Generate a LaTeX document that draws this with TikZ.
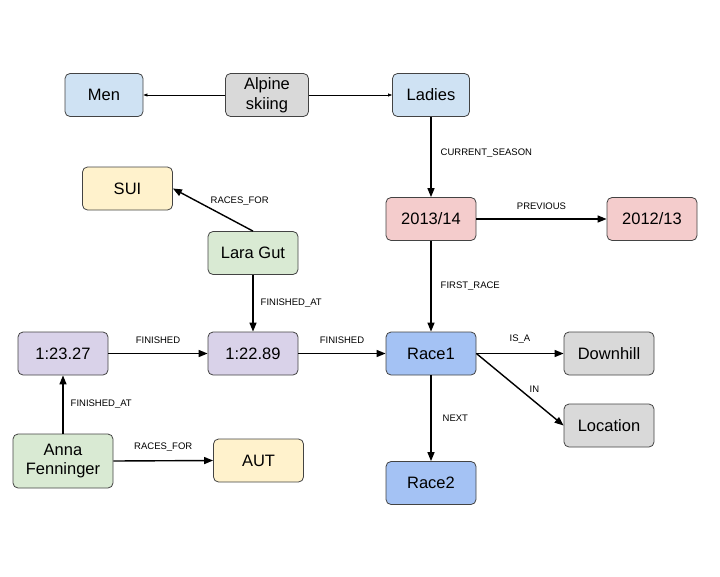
\documentclass[tikz,border=0pt]{standalone}
\usepackage{fontspec}
\setmainfont{Liberation Sans}
\usetikzlibrary{arrows.meta}
\definecolor{boxline}{HTML}{434343}
\definecolor{paleblue}{HTML}{CFE2F3}
\definecolor{palegrey}{HTML}{D9D9D9}
\definecolor{paleyellow}{HTML}{FFF2CC}
\definecolor{palegreen}{HTML}{D9EAD3}
\definecolor{palepink}{HTML}{F4CCCC}
\definecolor{palepurple}{HTML}{D9D2E9}
\definecolor{raceblue}{HTML}{A4C2F4}

\begin{document}
\begin{tikzpicture}[x=1pt,y=-1pt,
  box/.style={draw=boxline,line width=0.8pt,rounded corners=5pt,
    minimum width=90pt,minimum height=43pt,align=center,inner sep=2pt,
    font=\fontsize{16.5}{19.5}\selectfont},
  rel/.style={-{Triangle[length=9pt,width=7pt]},line width=1.4pt},
  thinrel/.style={-{Triangle[length=4pt,width=3pt]},line width=0.7pt},
  lbl/.style={font=\fontsize{9.5}{11}\selectfont,inner sep=1pt}]

\useasboundingbox (0,0) rectangle (720,576);

%top row
\node [box,fill=paleblue,minimum width=78pt] (men) at (104,95) {Men};
\node [box,fill=palegrey,minimum width=83pt] (alpine) at (267,95) {Alpine\\skiing};
\node [box,fill=paleblue,minimum width=77pt] (ladies) at (431,95) {Ladies};

%seasons
\node [box,fill=palepink] (season) at (431,219) {2013/14};
\node [box,fill=palepink] (prevseason) at (652,219) {2012/13};

%lara gut
\node [box,fill=paleyellow] (sui) at (127.5,188.5) {SUI};
\node [box,fill=palegreen] (lara) at (253,253) {Lara Gut};

%times and races
\node [box,fill=palepurple] (annatime) at (63,353.5) {1:23.27};
\node [box,fill=palepurple] (laratime) at (253,353.5) {1:22.89};
\node [box,fill=raceblue] (race1) at (431,353.5) {Race1};
\node [box,fill=palegrey] (downhill) at (609,353.5) {Downhill};
\node [box,fill=palegrey] (location) at (609,425.5) {Location};
\node [box,fill=raceblue] (race2) at (431,483) {Race2};

%anna fenninger
\node [box,fill=palegreen,minimum width=100pt,minimum height=54pt] (anna) at (63,461) {Anna\\Fenninger};
\node [box,fill=paleyellow] (aut) at (258.5,460.5) {AUT};

%top arrows
\draw [thinrel] (alpine.west) -- (men.east) ;
\draw [thinrel] (alpine.east) -- (ladies.west) ;

%season arrows
\draw [rel] (ladies.south) -- node [lbl,pos=0.45,right=8pt] {CURRENT\_SEASON} (season.north) ;
\draw [rel] (season.east) -- node [lbl,above=8pt] {PREVIOUS} (prevseason.west) ;
\draw [rel] (season.south) -- node [lbl,right=8pt] {FIRST\_RACE} (race1.north) ;

%lara arrows
\draw [rel] (lara.north) -- node [lbl,anchor=south west,xshift=-4pt,yshift=3pt] {RACES\_FOR} (sui.east) ;
\draw [rel] (lara.south) -- node [lbl,right=6pt] {FINISHED\_AT} (laratime.north) ;

%finish arrows
\draw [rel] (annatime.east) -- node [lbl,above=8pt] {FINISHED} (laratime.west) ;
\draw [rel] (laratime.east) -- node [lbl,above=8pt] {FINISHED} (race1.west) ;

%race arrows
\draw [rel] (race1.east) -- node [lbl,above=8pt] {IS\_A} (downhill.west) ;
\draw [rel] (race1.east) -- node [lbl,right=8pt] {IN} (location.west) ;
\draw [rel] (race1.south) -- node [lbl,right=10pt] {NEXT} (race2.north) ;

%anna arrows
\draw [rel] (anna.north) -- node [lbl,right=6pt] {FINISHED\_AT} (annatime.south) ;
\draw [rel] (anna.east) -- node [lbl,above=8pt] {RACES\_FOR} (aut.west) ;

\end{tikzpicture}
\end{document}
